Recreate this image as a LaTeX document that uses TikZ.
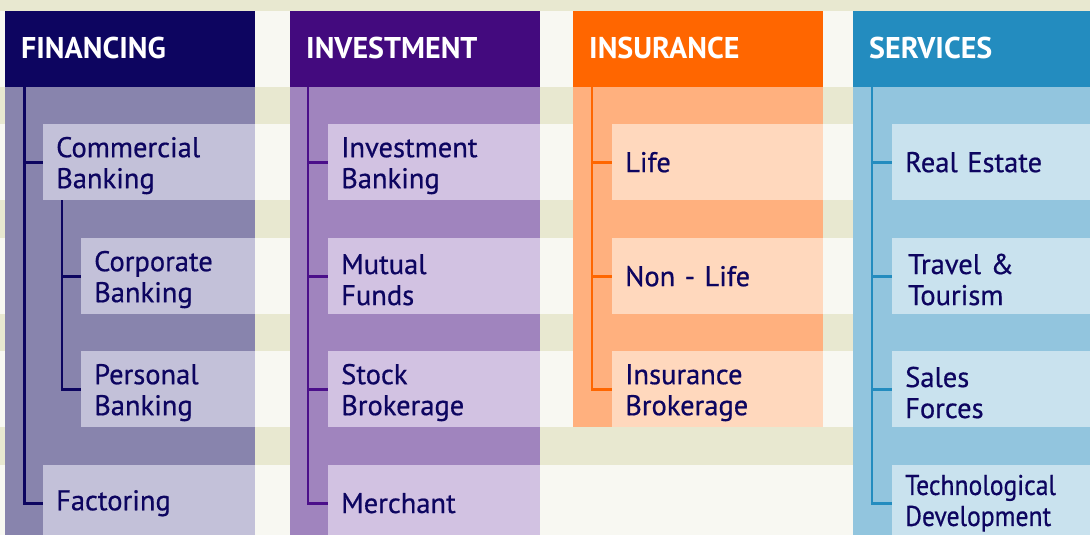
\documentclass[tikz,border=0pt]{standalone}
\usepackage{fontspec}
\setmainfont{PT Sans}
\newfontfamily\itemfont{PT Sans}[FakeBold=0.6]
\definecolor{bgbeige}{HTML}{E8E8D0}
\definecolor{bgwhite}{HTML}{F8F8F2}
\definecolor{txt}{HTML}{0D0560}
\definecolor{finH}{HTML}{0D0560}
\definecolor{finB}{HTML}{8884AD}
\definecolor{finI}{HTML}{C3C1D9}
\definecolor{finL}{HTML}{0D0560}
\definecolor{invH}{HTML}{430A7E}
\definecolor{invB}{HTML}{A084BE}
\definecolor{invI}{HTML}{D2C2E2}
\definecolor{invL}{HTML}{4B0F8A}
\definecolor{insH}{HTML}{FF6600}
\definecolor{insB}{HTML}{FFB07E}
\definecolor{insI}{HTML}{FFD8BD}
\definecolor{insL}{HTML}{FF6600}
\definecolor{serH}{HTML}{238CBF}
\definecolor{serB}{HTML}{92C5DE}
\definecolor{serI}{HTML}{C9E2EE}
\definecolor{serL}{HTML}{238CBF}
\begin{document}
\begin{tikzpicture}[x=1pt,y=-1pt,
  header/.style={anchor=north west, minimum height=76pt, inner xsep=16pt, inner ysep=0pt,
    align=left, text=white, font=\fontsize{30}{34}\selectfont\bfseries},
  item/.style={anchor=north west, minimum height=76pt, inner xsep=13pt, inner ysep=0pt,
    align=left, text=txt, font=\fontsize{28.5}{31}\itemfont},
  two/.style={execute at begin node={\rule{0pt}{27pt}}},
  conn/.style={line width=2.6pt}
]
\useasboundingbox (0,0) rectangle (1090,535);
\clip (0,0) rectangle (1090,535);
% background stripes
\fill[bgbeige] (0,0) rectangle (1090,535);
\foreach \y/\h in {11/87,124/200,238/314,351/427,465/535}
  \fill[bgwhite] (0,\y) rectangle (1090,\h);
% column bodies
\fill[finB] (5,87) rectangle (255,535);
\fill[invB] (290,87) rectangle (540,535);
\fill[insB] (573,87) rectangle (823,427);
\fill[serB] (853,87) rectangle (1090,535);
% headers
\node[header, fill=finH, text width=218pt] (fin) at (5,11) {\raisebox{2pt}{FINANCING}};
\node[header, fill=invH, text width=218pt] (inv) at (290,11) {\raisebox{2pt}{INVESTMENT}};
\node[header, fill=insH, text width=218pt] (ins) at (573,11) {\raisebox{2pt}{INSURANCE}};
\node[header, fill=serH, text width=205pt] (ser) at (853,11) {\raisebox{2pt}{SERVICES}};
% financing items
\node[item, two, fill=finI, text width=186pt] (comm) at (43,124) {Commercial\\Banking};
\node[item, two, fill=finI, text width=148pt] (corp) at (81,238) {Corporate\\Banking};
\node[item, two, fill=finI, text width=148pt] (pers) at (81,351) {Personal\\Banking};
\node[item, fill=finI, text width=186pt] (fact) at (43,465) {Factoring};
% investment items
\node[item, two, fill=invI, text width=186pt] (invb) at (328,124) {Investment\\Banking};
\node[item, two, fill=invI, text width=186pt] (mutu) at (328,238) {Mutual\\Funds};
\node[item, two, fill=invI, text width=186pt] (stoc) at (328,351) {Stock\\Brokerage};
\node[item, fill=invI, text width=186pt] (merc) at (328,465) {Merchant};
% insurance items
\node[item, fill=insI, text width=185pt] (life) at (612,124) {Life};
\node[item, fill=insI, text width=185pt] (nonl) at (612,238) {Non - Life};
\node[item, two, fill=insI, text width=185pt] (insb) at (612,351) {Insurance\\Brokerage};
% services items
\node[item, fill=serI, text width=172pt] (real) at (892,124) {Real Estate};
\node[item, two, fill=serI, text width=172pt] (trav) at (892,238) {\hspace{3pt}Travel \&\\\hspace{3pt}Tourism};
\node[item, two, fill=serI, text width=172pt] (sale) at (892,351) {Sales\\Forces};
\node[item, fill=serI, text width=172pt] (tech) at (892,465) {\scalebox{0.9}[1]{Technological}\\\scalebox{0.9}[1]{Development}};
% trunk coordinates
\coordinate (finT) at (24.5,87);
\coordinate (commT) at (62,200);
\coordinate (invT) at (308,87);
\coordinate (insT) at (592,87);
\coordinate (serT) at (872,87);
% connectors
\draw[conn, finL] (finT) |- (comm.west);
\draw[conn, finL] (finT) |- (fact.west);
\draw[conn, finL] (commT) |- (corp.west);
\draw[conn, finL] (commT) |- (pers.west);
\foreach \n in {invb,mutu,stoc,merc} \draw[conn, invL] (invT) |- (\n.west);
\foreach \n in {life,nonl,insb} \draw[conn, insL] (insT) |- (\n.west);
\foreach \n in {real,trav,sale,tech} \draw[conn, serL] (serT) |- (\n.west);
\end{tikzpicture}
\end{document}
